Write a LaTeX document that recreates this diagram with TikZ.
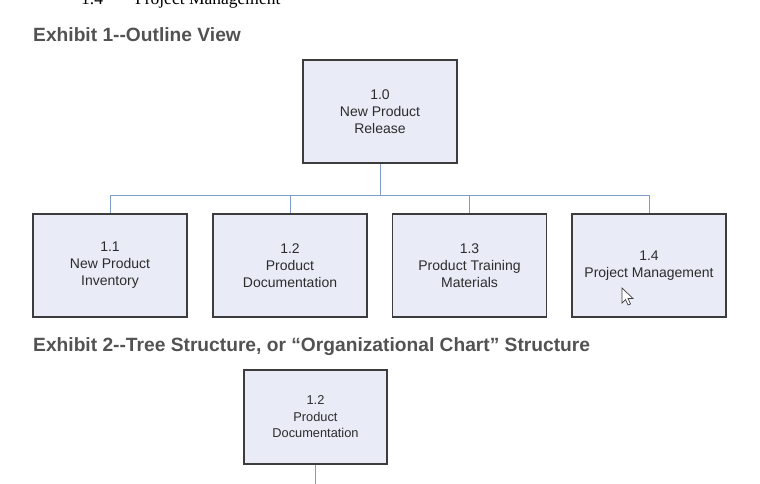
\documentclass[tikz,border=0pt]{standalone}
\usepackage{fontspec}
\setmainfont{Liberation Sans}
\newfontfamily\serifdoc{Liberation Serif}
\begin{document}
\begin{tikzpicture}[x=1pt,y=-1pt,
  wbs/.style={draw=boxline, line width=1.3pt, fill=boxfill, text=boxtext,
    minimum width=154pt, minimum height=103pt, align=center, inner sep=0pt,
    font=\fontsize{14}{17}\selectfont},
  wbssmall/.style={wbs, minimum width=143pt, minimum height=94pt,
    font=\fontsize{12.8}{16.5}\selectfont},
  conn/.style={draw=connblue, line width=1pt},
  heading/.style={anchor=base west, inner sep=0pt, text=headgray,
    font=\fontsize{19.2}{22}\selectfont\bfseries}]
\definecolor{boxfill}{HTML}{E9ECF7}
\definecolor{boxline}{HTML}{3C3C3C}
\definecolor{boxtext}{HTML}{2C2C2C}
\definecolor{connblue}{HTML}{7F9CCB}
\definecolor{headgray}{HTML}{525252}
\useasboundingbox (0,0) rectangle (760,483);
\begin{scope}
\clip (0,0) rectangle (760,483);
\node[anchor=base west, inner sep=0pt, text=black, font=\serifdoc\fontsize{17.5}{20}\selectfont] (prev) at (81,4) {1.4\hspace{32pt}Project Management};

\node[heading] (h1) at (33,41) {Exhibit 1-{}-Outline View};
\node[heading] (h2) at (33,351) {Exhibit 2-{}-Tree Structure, or “Organizational Chart” Structure};

\node[wbs] (top) at (380,111.5) {1.0\\New Product\\Release};
\node[wbs] (c1) at (110,265.5) {1.1\\New Product\\Inventory};
\node[wbs] (c2) at (290,265.5) {1.2\\Product\\Documentation};
\node[wbs] (c3) at (469.5,265.5) {1.3\\Product Training\\Materials};
\node[wbs] (c4) at (649,265.5) {1.4\\Project Management};

\coordinate (bus) at (380,195);
\draw[conn] (top.south) -- (bus);
\draw[conn] (bus) -| (c1.north);
\draw[conn] (bus) -| (c2.north);
\draw[conn] (bus) -| (c3.north);
\draw[conn] (bus) -| (c4.north);

\node[wbssmall] (d2) at (315.5,417) {1.2\\Product\\Documentation};
\coordinate (down) at (315.5,490);
\draw[conn] (d2.south) -- (down);

% mouse cursor
\draw[fill=white, draw=black!75, line width=0.7pt, line join=miter]
  (622,288) -- (622,303) -- (625.5,299.5) -- (628,305) -- (630.5,304) -- (628,298.5) -- (633,298.5) -- cycle;
\end{scope}
\end{tikzpicture}
\end{document}
